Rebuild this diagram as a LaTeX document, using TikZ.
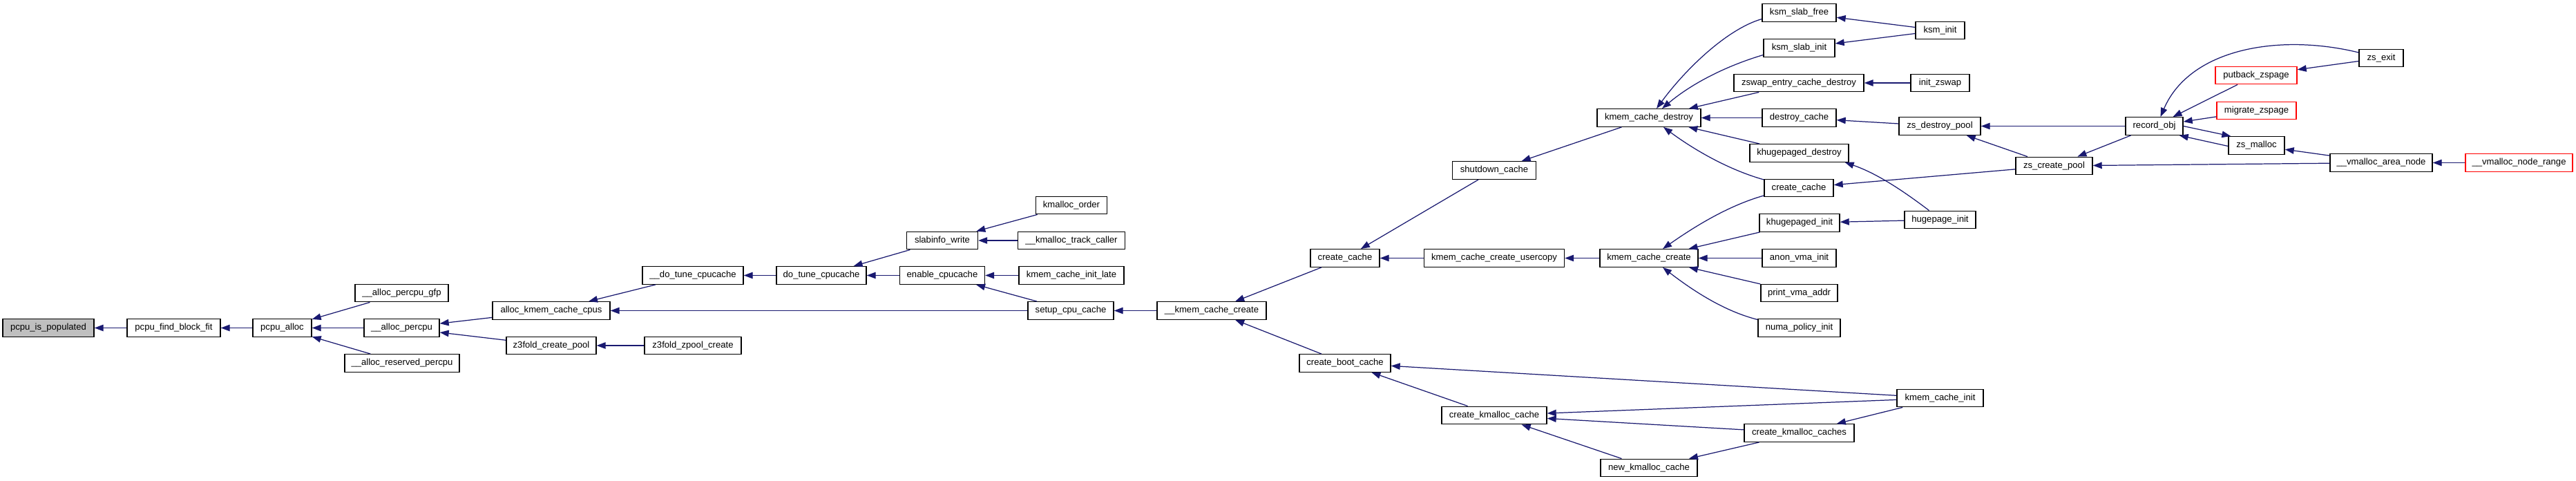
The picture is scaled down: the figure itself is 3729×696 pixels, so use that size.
\documentclass[tikz,border=0pt]{standalone}
\usepackage{fontspec}
\setmainfont{Liberation Sans}
\usetikzlibrary{arrows.meta,calc}
\definecolor{edgeblue}{HTML}{191970}
\definecolor{nodegrey}{HTML}{BFBFBF}
\begin{document}
\begin{tikzpicture}[x=0.02cm,y=-0.02cm,
  box/.style={draw=black,line width=0.8pt,fill=white,rectangle,minimum height=0.51cm,inner sep=0pt,font=\fontsize{7.45pt}{9pt}\selectfont},
  redbox/.style={box,draw=red},
  greybox/.style={box,fill=nodegrey},
  edge/.style={draw=edgeblue,line width=0.7pt,-{Triangle[length=0.26cm,width=0.19cm]}}]
\useasboundingbox[fill=white] (0,0) rectangle (3729,696);
% rank 0-3
\node[greybox,minimum width=2.64cm] (pip) at (70,474.5) {pcpu\_is\_populated};
\node[box,minimum width=2.70cm] (pfbf) at (251.5,474.5) {pcpu\_find\_block\_fit};
\node[box,minimum width=1.70cm] (pal) at (408.5,474.5) {pcpu\_alloc};
\node[box,minimum width=2.70cm] (apg) at (581.5,424) {\_\_alloc\_percpu\_gfp};
\node[box,minimum width=2.18cm] (ap) at (581.5,474.5) {\_\_alloc\_percpu};
\node[box,minimum width=3.32cm] (arp) at (582,525.5) {\_\_alloc\_reserved\_percpu};
% rank 4-6
\node[box,minimum width=3.40cm] (akcc) at (798,449.5) {alloc\_kmem\_cache\_cpus};
\node[box,minimum width=2.60cm] (z3cp) at (798,500) {z3fold\_create\_pool};
\node[box,minimum width=2.92cm] (dtc) at (1003,398.5) {\_\_do\_tune\_cpucache};
\node[box,minimum width=2.80cm] (z3zc) at (1003,500) {z3fold\_zpool\_create};
\node[box,minimum width=2.60cm] (dotc) at (1189,398.5) {do\_tune\_cpucache};
% rank 7-9
\node[box,minimum width=2.06cm] (sw) at (1364,348) {slabinfo\_write};
\node[box,minimum width=2.46cm] (ec) at (1364,398.5) {enable\_cpucache};
\node[box,minimum width=2.06cm] (ko) at (1551,297) {kmalloc\_order};
\node[box,minimum width=3.10cm] (ktc) at (1551,348) {\_\_kmalloc\_track\_caller};
\node[box,minimum width=3.04cm] (kcil) at (1551,398.5) {kmem\_cache\_init\_late};
\node[box,minimum width=2.48cm] (scc) at (1550,449.5) {setup\_cpu\_cache};
\node[box,minimum width=3.16cm] (kcc) at (1754,449.5) {\_\_kmem\_cache\_create};
% rank 10-12
\node[box,minimum width=2.00cm] (ccL) at (1947,373.5) {create\_cache};
\node[box,minimum width=2.64cm] (cbc) at (1947,525.5) {create\_boot\_cache};
\node[box,minimum width=2.42cm] (sc) at (2163,246.5) {shutdown\_cache};
\node[box,minimum width=4.06cm] (kccu) at (2163,373.5) {kmem\_cache\_create\_usercopy};
\node[box,minimum width=3.04cm] (ckc) at (2163,601) {create\_kmalloc\_cache};
\node[box,minimum width=3.00cm] (kcd) at (2387,170.5) {kmem\_cache\_destroy};
\node[box,minimum width=2.84cm] (kccr) at (2387,373.5) {kmem\_cache\_create};
\node[box,minimum width=2.80cm] (nkc) at (2387,677) {new\_kmalloc\_cache};
% rank 13
\node[box,minimum width=2.14cm] (ksf) at (2604.5,18.5) {ksm\_slab\_free};
\node[box,minimum width=2.06cm] (ksi) at (2604.5,69.5) {ksm\_slab\_init};
\node[box,minimum width=3.76cm] (zecd) at (2604,120) {zswap\_entry\_cache\_destroy};
\node[box,minimum width=2.14cm] (dc) at (2604.5,170.5) {destroy\_cache};
\node[box,minimum width=2.86cm] (khd) at (2604.5,221.5) {khugepaged\_destroy};
\node[box,minimum width=2.00cm] (ccR) at (2604,272) {create\_cache};
\node[box,minimum width=2.32cm] (khi) at (2605,322.5) {khugepaged\_init};
\node[box,minimum width=2.14cm] (avi) at (2604.5,373.5) {anon\_vma\_init};
\node[box,minimum width=2.22cm] (pva) at (2604.5,424) {print\_vma\_addr};
\node[box,minimum width=2.38cm] (npi) at (2604.5,474.5) {numa\_policy\_init};
\node[box,minimum width=3.18cm] (ckcs) at (2604.5,626.5) {create\_kmalloc\_caches};
% rank 14-15
\node[box,minimum width=1.42cm] (ksmi) at (2808.5,44) {ksm\_init};
\node[box,minimum width=1.70cm] (iz) at (2808.5,120) {init\_zswap};
\node[box,minimum width=2.36cm] (zdp) at (2808,182.5) {zs\_destroy\_pool};
\node[box,minimum width=2.06cm] (hpi) at (2808.5,318) {hugepage\_init};
\node[box,minimum width=2.50cm] (kci) at (2808.5,576) {kmem\_cache\_init};
\node[box,minimum width=2.22cm] (zcp) at (2973.5,240) {zs\_create\_pool};
% rank 16-19
\node[box,minimum width=1.66cm] (ro) at (3118.5,182.5) {record\_obj};
\node[redbox,minimum width=2.36cm] (pbz) at (3266,109) {putback\_zspage};
\node[redbox,minimum width=2.30cm] (mz) at (3266.5,160) {migrate\_zspage};
\node[box,minimum width=1.62cm] (zsm) at (3266.5,210.5) {zs\_malloc};
\node[box,minimum width=1.28cm] (zse) at (3447,84) {zs\_exit};
\node[box,minimum width=2.96cm] (van) at (3447,235.5) {\_\_vmalloc\_area\_node};
\node[redbox,minimum width=3.10cm] (vnr) at (3646.5,235.5) {\_\_vmalloc\_node\_range};
% edges
\draw[edge] (pfbf) -- (pip);
\draw[edge] (pal) -- (pfbf);
\draw[edge] (apg) -- (pal);
\draw[edge] (ap) -- (pal);
\draw[edge] (arp) -- (pal);
\draw[edge] (akcc) -- (ap);
\draw[edge] (z3cp) -- (ap);
\draw[edge] (dtc) -- (akcc);
\draw[edge] (scc) -- (akcc);
\draw[edge] (z3zc) -- (z3cp);
\draw[edge] (dotc) -- (dtc);
\draw[edge] (sw) -- (dotc);
\draw[edge] (ec) -- (dotc);
\draw[edge] (ko) -- (sw);
\draw[edge] (ktc) -- (sw);
\draw[edge] (kcil) -- (ec);
\draw[edge] (scc) -- (ec);
\draw[edge] (kcc) -- (scc);
\draw[edge] (ccL) -- (kcc);
\draw[edge] (cbc) -- (kcc);
\draw[edge] (sc) -- (ccL);
\draw[edge] (kccu) -- (ccL);
\draw[edge] (kcd) -- (sc);
\draw[edge] (kccr) -- (kccu);
\draw[edge] (ckc) -- (cbc);
\draw[edge] (kci) -- (cbc);
\draw[edge] (nkc) -- (ckc);
\draw[edge] (kci) -- (ckc);
\draw[edge] (ckcs) -- (ckc);
\draw[edge] (ckcs) -- (nkc);
\draw[edge] (kci) -- (ckcs);
\draw[edge] ($(ksf.west)+(0,9)$) .. controls (2500,42) and (2440,100) .. ($(kcd.north)+(11,0)$);
\draw[edge] ($(ksi.west)+(0,10)$) .. controls (2500,95) and (2450,120) .. ($(kcd.north)+(19,0)$);
\draw[edge] (zecd) -- (kcd);
\draw[edge] (dc) -- (kcd);
\draw[edge] (khd) -- (kcd);
\draw[edge] ($(ccR.west)+(0,-12)$) .. controls (2500,245) and (2450,215) .. ($(kcd.south)+(21,0)$);
\draw[edge] ($(ccR.west)+(0,11)$) .. controls (2500,298) and (2450,330) .. ($(kccr.north)+(20,0)$);
\draw[edge] (khi) -- (kccr);
\draw[edge] (avi) -- (kccr);
\draw[edge] (pva) -- (kccr);
\draw[edge] ($(npi.west)+(0,-12)$) .. controls (2495,450) and (2450,420) .. ($(kccr.south)+(20,0)$);
\draw[edge] (ksmi) -- (ksf);
\draw[edge] (ksmi) -- (ksi);
\draw[edge] (iz) -- (zecd);
\draw[edge] (zdp) -- (dc);
\draw[edge] ($(hpi.north)+(-16,0)$) .. controls (2760,280) and (2720,252) .. ($(khd.south east)+(-6,0)$);
\draw[edge] (hpi) -- (khi);
\draw[edge] (zcp) -- (ccR);
\draw[edge] (zcp) -- (zdp);
\draw[edge] (ro) -- (zdp);
\draw[edge] (ro) -- (zcp);
\draw[edge] ($(zse.west)+(0,-8)$) .. controls (3300,48) and (3170,70) .. ($(ro.north)+(9,0)$);
\draw[edge] (pbz) -- (ro);
\draw[edge] (mz) -- (ro);
\draw[edge] (ro.east) -- ($(zsm.north west)+(4,0)$);
\draw[edge] ($(zsm.west)+(0,1)$) -- ($(ro.south east)+(-6,0)$);
\draw[edge] (zse) -- (pbz);
\draw[edge] (van) -- (zsm);
\draw[edge] (van) -- (zcp);
\draw[edge] (vnr) -- (van);
\end{tikzpicture}
\end{document}
